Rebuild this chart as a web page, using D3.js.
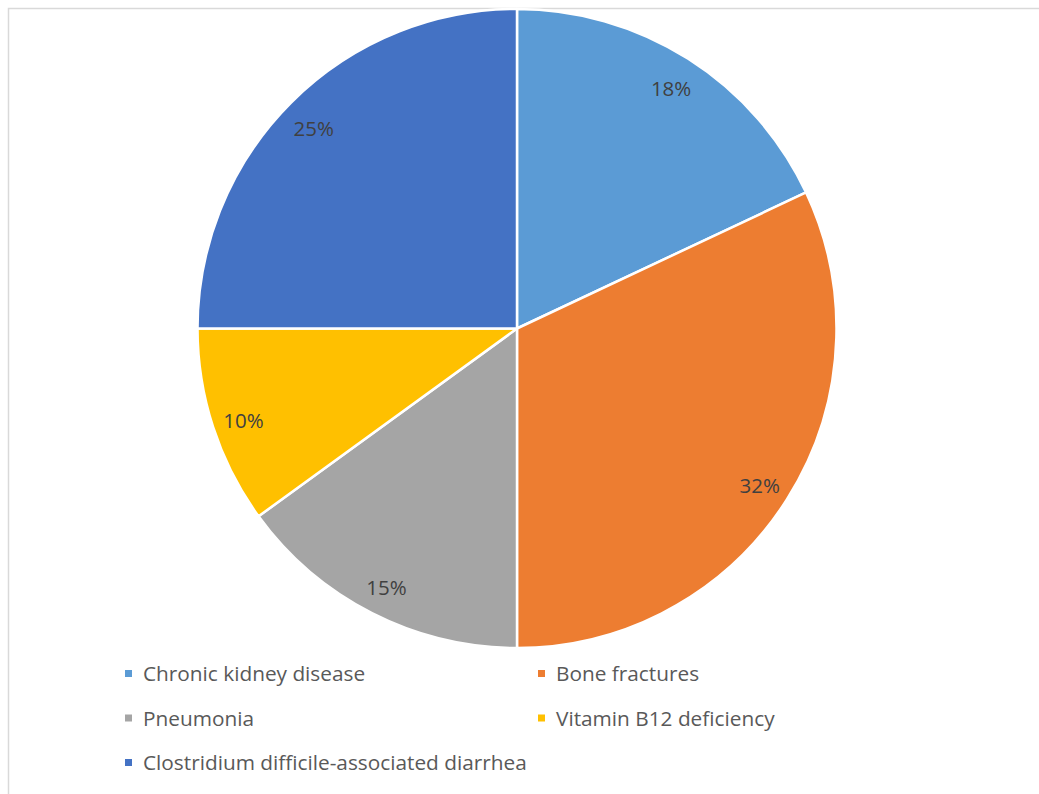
<!DOCTYPE html>
<html>
<head>
<meta charset="utf-8">
<script src="https://cdn.jsdelivr.net/npm/d3@7/dist/d3.min.js"></script>
<style>
  html, body { margin: 0; padding: 0; background: #fff; }
  svg { display: block; }
</style>
</head>
<body>
<svg id="chart" width="1039" height="794"></svg>
<script>
// Share of adverse outcomes (percent)
const categories = [
  "Chronic kidney disease",
  "Bone fractures",
  "Pneumonia",
  "Vitamin B12 deficiency",
  "Clostridium difficile-associated diarrhea"
];
const values = [18, 32, 15, 10, 25];
const colors = ["#5B9BD5", "#ED7D31", "#A5A5A5", "#FFC000", "#4472C4"];

const svg = d3.select("#chart");
const cx = 517, cy = 328.5, r = 319.5;
const font = "'Open Sans', 'Noto Sans', sans-serif";

// chart area frame (continues past the right and bottom edges)
svg.append("rect")
  .attr("x", 8.5).attr("y", 8.5)
  .attr("width", 1200).attr("height", 1000)
  .attr("fill", "none")
  .attr("stroke", "#D9D9D9")
  .attr("stroke-width", 1.5);

const data = categories.map((c, i) => ({ name: c, value: values[i], color: colors[i] }));

const pie = d3.pie().value(d => d.value).sort(null);
const arcs = pie(data);
const arc = d3.arc().innerRadius(0).outerRadius(r);
const labelArc = d3.arc().innerRadius(r * 0.9).outerRadius(r * 0.9);

const g = svg.append("g").attr("transform", `translate(${cx},${cy})`);

g.selectAll("path.slice")
  .data(arcs)
  .join("path")
  .attr("class", "slice")
  .attr("d", arc)
  .attr("fill", d => d.data.color)
  .attr("stroke", "#fff")
  .attr("stroke-width", 2.5)
  .attr("stroke-linejoin", "round");

g.selectAll("text.pct")
  .data(arcs)
  .join("text")
  .attr("class", "pct")
  .attr("transform", d => {
    const [x, y] = labelArc.centroid(d);
    return `translate(${x},${y + 2.5})`;
  })
  .attr("text-anchor", "middle")
  .attr("dominant-baseline", "central")
  .attr("font-family", font)
  .attr("font-size", 20.5)
  .attr("fill", "#404040")
  .text(d => d.data.value + "%");

// legend: two columns, rows left-to-right
const legendCols = [125, 538];
const legendRows = [681, 725.5, 770];
const legend = svg.append("g");
data.forEach((d, i) => {
  const col = i % 2, row = Math.floor(i / 2);
  const x = legendCols[col], y = legendRows[row];
  legend.append("rect")
    .attr("x", x).attr("y", y - 11)
    .attr("width", 7).attr("height", 7)
    .attr("fill", d.color);
  legend.append("text")
    .attr("x", x + 18).attr("y", y)
    .attr("font-family", font)
    .attr("font-size", 20.8)
    .attr("fill", "#595959")
    .text(d.name);
});
</script>
</body>
</html>
